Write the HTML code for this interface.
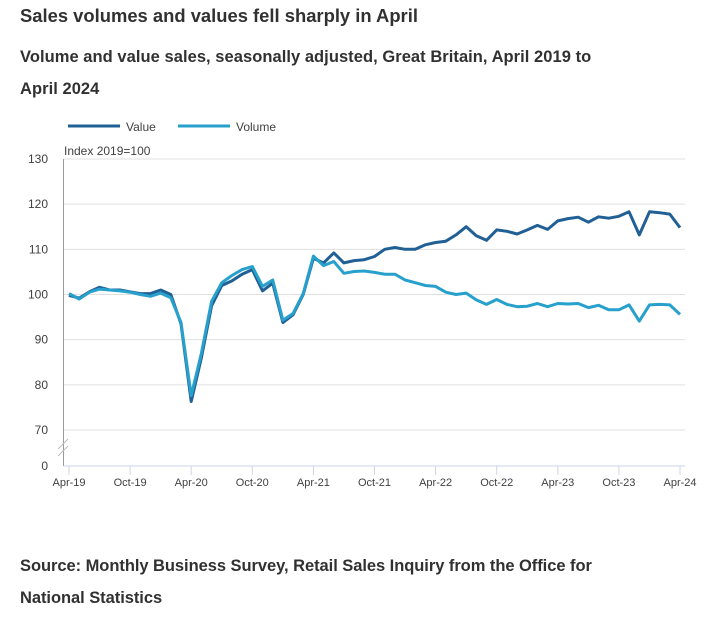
<!DOCTYPE html>
<html><head><meta charset="utf-8"><style>
body{margin:0;background:#fff;width:721px;height:618px;overflow:hidden;font-family:"Liberation Sans",sans-serif;color:#323132}
.t{position:absolute;left:20px;font-weight:bold;margin:0}
</style></head><body>
<div class="t" style="top:5px;font-size:18.4px">Sales volumes and values fell sharply in April</div>
<div class="t" style="top:41px;font-size:16.5px;line-height:32px;width:590px;letter-spacing:0.05px">Volume and value sales, seasonally adjusted, Great Britain, April 2019 to April 2024</div>
<div class="t" style="top:550px;font-size:16.5px;line-height:32px;width:600px;letter-spacing:-0.05px">Source: Monthly Business Survey, Retail Sales Inquiry from the Office for National Statistics</div>
<svg id="c" width="721" height="618" style="position:absolute;left:0;top:0" font-family="Liberation Sans, sans-serif">
<g>
<line x1="68" y1="126" x2="120" y2="126" stroke="#206095" stroke-width="3"/>
<text x="126" y="131" font-size="12" fill="#414042">Value</text>
<line x1="178" y1="126" x2="230" y2="126" stroke="#27a0cc" stroke-width="3"/>
<text x="236" y="131" font-size="12" fill="#414042">Volume</text>
</g>
<text x="64" y="155" font-size="12" fill="#414042">Index 2019=100</text>
<g id="grid"></g><g id="axes"></g><g id="series"></g>
</svg>
<script>
const yTicks=[70,80,90,100,110,120,130];
const xLabels=["Apr-19","Oct-19","Apr-20","Oct-20","Apr-21","Oct-21","Apr-22","Oct-22","Apr-23","Oct-23","Apr-24"];
const valueSeries=[99.8,99.2,100.6,101.6,101,101,100.6,100.2,100.2,101,100,93.5,76.3,86,97.5,102,103,104.5,105.5,100.8,102.5,93.8,95.5,100,108,107,109.2,107,107.5,107.7,108.4,110,110.4,110,110,111,111.5,111.8,113.2,115,113,112,114.3,114,113.4,114.3,115.3,114.4,116.3,116.8,117.1,116,117.2,116.9,117.3,118.3,113.2,118.3,118.1,117.8,114.8];
const volumeSeries=[100.2,99,100.5,101.2,101,100.8,100.5,100,99.6,100.3,99.3,93.8,77.6,87,98.5,102.6,104.2,105.5,106.2,101.8,103.2,94.3,95.8,100.2,108.5,106.4,107.3,104.7,105.1,105.2,104.9,104.5,104.5,103.2,102.6,102,101.8,100.5,100,100.3,98.8,97.8,98.9,97.8,97.3,97.4,98,97.3,98,97.9,98,97.1,97.6,96.6,96.6,97.7,94.1,97.7,97.8,97.7,95.6];
const NS="http://www.w3.org/2000/svg";
const x=i=>69+i*(611/60);
const y=v=>430-(v-70)*4.517;
function mk(p,t,a){const e=document.createElementNS(NS,t);for(const k in a)e.setAttribute(k,a[k]);document.getElementById(p).appendChild(e);return e;}
yTicks.forEach(v=>{
 const g=mk('grid','line',{x1:64,x2:685,y1:y(v),y2:y(v),stroke:'#e0e0e0','stroke-width':1});
 
 
 const t=mk('grid','text',{x:48,y:y(v)+4,'font-size':12,fill:'#414042','text-anchor':'end'});t.textContent=v;
 
 
});
const z=mk('grid','text',{x:48,y:470,'font-size':12,fill:'#414042','text-anchor':'end'});z.textContent='0';


const ya=mk('axes','line',{x1:63.5,x2:63.5,y1:159,y2:466,stroke:'#999','stroke-width':1});


mk('axes','line',{x1:58,y1:449,x2:68,y2:439,stroke:'#bbb'});
mk('axes','line',{x1:58,y1:456,x2:68,y2:446,stroke:'#bbb'});
const xa=mk('axes','line',{x1:63.5,x2:685,y1:466,y2:466,stroke:'#ccd6eb','stroke-width':1});


xLabels.forEach((l,k)=>{
 const xx=x(k*6);
 mk('axes','line',{x1:xx,x2:xx,y1:466,y2:475,stroke:'#ccd6eb'});
 const t=mk('axes','text',{x:xx,y:486,'font-size':11,fill:'#414042','text-anchor':'middle'});t.textContent=l;
 
 
});
function line(d,c,n){const p=mk('series','path',{d:d.map((v,i)=>(i?'L':'M')+x(i).toFixed(1)+','+y(v).toFixed(1)).join(''),fill:'none',stroke:c,'stroke-width':3,'stroke-linejoin':'round'});
 
 }
line(valueSeries,'#206095','value-line');
line(volumeSeries,'#27a0cc','volume-line');
</script>
</body></html>
